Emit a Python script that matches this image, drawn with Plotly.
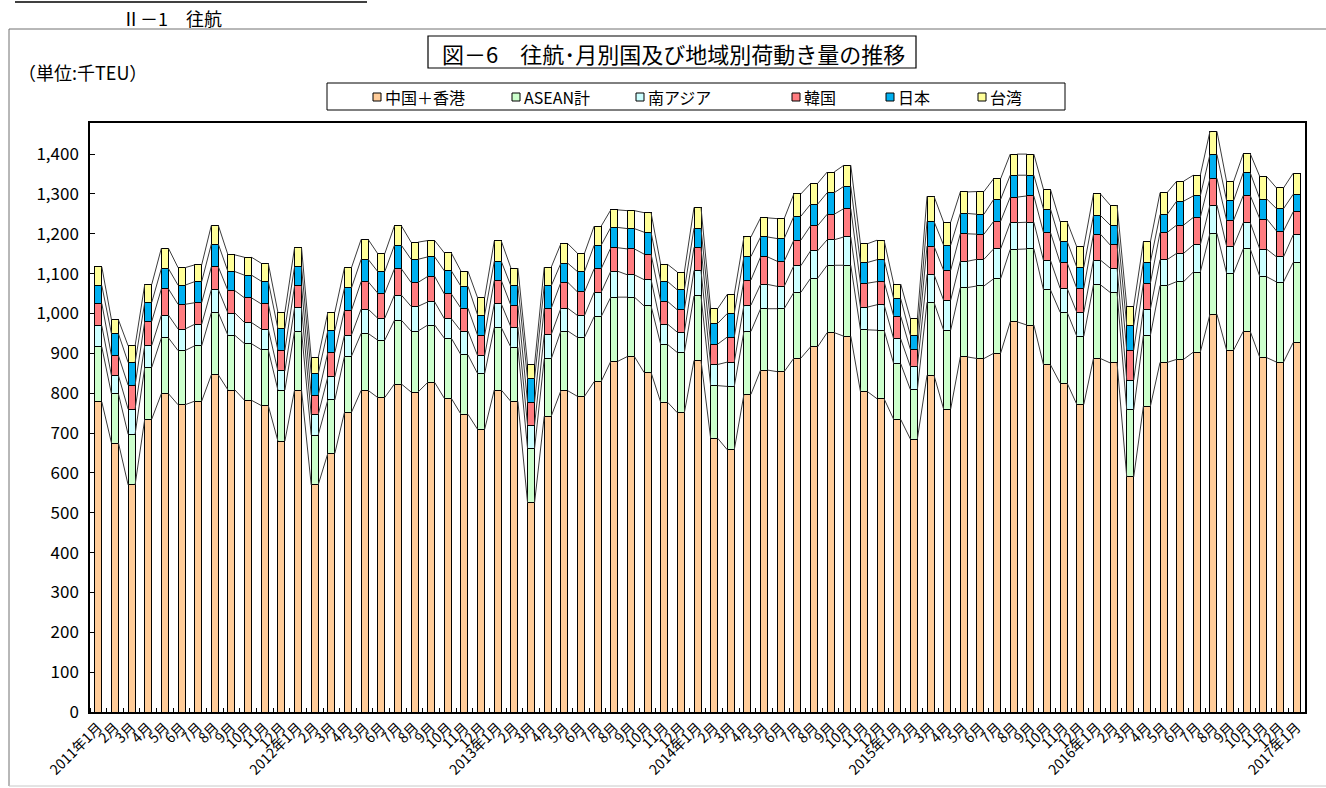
import plotly.graph_objects as go

# ---------------- data (千TEU) ----------------
months = []
for yr in range(2011, 2018):
    for m in range(1, 13):
        if len(months) < 73:
            months.append(f"{yr}年{m}月" if m == 1 else f"{m}月")

china = [778, 675, 570, 735, 799, 771, 780, 846, 808, 782, 769, 680,
         808, 570, 649, 752, 807, 789, 823, 803, 827, 787, 747, 709,
         808, 779, 525, 742, 806, 792, 829, 880, 892, 852, 777, 751,
         882, 687, 658, 797, 858, 854, 888, 916, 952, 943, 804, 786,
         734, 685, 845, 760, 891, 887, 900, 979, 971, 871, 825, 772,
         887, 876, 590, 767, 877, 885, 903, 998, 908, 955, 889, 878,
         927]
asean = [138, 123, 127, 130, 140, 136, 139, 156, 137, 142, 140, 128,
         148, 125, 134, 141, 143, 144, 160, 153, 144, 151, 149, 140,
         157, 136, 136, 144, 150, 148, 163, 161, 149, 167, 145, 151,
         162, 132, 159, 158, 154, 158, 165, 172, 169, 178, 155, 172,
         140, 124, 183, 198, 174, 182, 187, 182, 191, 188, 178, 171,
         185, 177, 168, 178, 193, 195, 201, 203, 193, 207, 203, 201,
         201]
south_asia = [53, 46, 63, 55, 57, 54, 54, 58, 56, 53, 52, 48,
              58, 51, 58, 53, 61, 55, 63, 62, 58, 49, 60, 45,
              59, 51, 59, 61, 57, 55, 61, 65, 56, 66, 51, 51,
              64, 53, 61, 66, 61, 56, 67, 69, 64, 71, 57, 64,
              62, 58, 70, 75, 66, 67, 75, 67, 67, 74, 60, 60,
              62, 61, 75, 66, 65, 71, 68, 71, 68, 66, 69, 63,
              69]
korea = [56, 50, 60, 60, 66, 62, 54, 57, 56, 62, 63, 52,
         55, 49, 61, 62, 69, 63, 66, 60, 64, 62, 57, 51,
         59, 54, 57, 66, 65, 59, 59, 59, 65, 64, 57, 56,
         58, 51, 63, 63, 69, 63, 64, 63, 64, 71, 60, 58,
         57, 43, 71, 75, 69, 63, 69, 64, 66, 70, 64, 60,
         65, 58, 75, 65, 68, 71, 69, 67, 65, 68, 76, 65,
         58]
japan = [45, 55, 57, 48, 51, 48, 53, 57, 48, 57, 57, 54,
         48, 54, 55, 56, 56, 54, 59, 58, 49, 58, 55, 51,
         48, 49, 59, 56, 48, 51, 59, 51, 51, 55, 50, 50,
         48, 52, 59, 59, 50, 57, 60, 54, 54, 56, 52, 55,
         44, 35, 62, 63, 51, 50, 55, 55, 52, 59, 54, 53,
         47, 50, 62, 53, 45, 60, 54, 60, 49, 57, 50, 56,
         44]
taiwan = [47, 35, 42, 45, 51, 44, 42, 47, 42, 45, 45, 41,
          48, 40, 46, 51, 50, 45, 49, 43, 41, 45, 38, 43,
          51, 45, 36, 47, 49, 46, 48, 44, 45, 49, 43, 45,
          52, 37, 48, 49, 48, 50, 56, 52, 52, 53, 47, 49,
          37, 42, 63, 58, 54, 57, 52, 53, 53, 49, 49, 51,
          54, 50, 48, 51, 55, 50, 52, 58, 48, 48, 56, 52,
          53]

series_names = ["中国＋香港", "ASEAN計", "南アジア", "韓国", "日本", "台湾"]
series_values = [china, asean, south_asia, korea, japan, taiwan]
series_colors = ["#FFCC99", "#CCFFCC", "#CCFFFF", "#FF7C80", "#00B0F0", "#FFFF99"]
y_ticks = list(range(0, 1401, 100))

# ---------------- layout helpers ----------------
W, H = 1326, 788
PL, PR, PT, PB = 90, 1305, 123, 712
FONT = "Noto Sans CJK JP"


def px(x):
    return (x - PL) / (PR - PL)


def py(y):
    return (PB - y) / (PB - PT)


n = len(months)
xs = list(range(n))
bw = 0.42

fig = go.Figure()
for name, vals, col in zip(series_names, series_values, series_colors):
    fig.add_bar(x=xs, y=vals, name=name, width=bw,
                marker=dict(color=col, line=dict(color="#000000", width=1)),
                showlegend=False)

# Excel-style series lines joining the stack levels
cum = [0] * n
for vals in series_values:
    cum = [c + v for c, v in zip(cum, vals)]
    lx, ly = [], []
    for i in range(n - 1):
        lx += [i + bw / 2, i + 1 - bw / 2, None]
        ly += [cum[i], cum[i + 1], None]
    fig.add_scatter(x=lx, y=ly, mode="lines", line=dict(color="#3c3c3c", width=1),
                    showlegend=False, hoverinfo="skip")

shapes = []
annotations = []

# outer frame
shapes.append(dict(type="line", xref="paper", yref="paper", x0=px(9), x1=px(1330), y0=py(29), y1=py(29),
                   line=dict(color="#707070", width=1)))
shapes.append(dict(type="line", xref="paper", yref="paper", x0=px(9), x1=px(9), y0=py(29), y1=py(786),
                   line=dict(color="#707070", width=1)))
shapes.append(dict(type="line", xref="paper", yref="paper", x0=px(9), x1=px(1330), y0=py(786), y1=py(786),
                   line=dict(color="#c8c8c8", width=1)))
# cut-off underline at very top
shapes.append(dict(type="line", xref="paper", yref="paper", x0=px(15), x1=px(367), y0=py(2), y1=py(2),
                   line=dict(color="#000000", width=1.5)))

# title box
shapes.append(dict(type="rect", xref="paper", yref="paper", x0=px(428), x1=px(916), y0=py(36), y1=py(68),
                   line=dict(color="#000000", width=1.2), fillcolor="white"))
annotations.append(dict(xref="paper", yref="paper", x=px(673), y=py(53), showarrow=False,
                        text="図－6　往航･月別国及び地域別荷動き量の推移",
                        font=dict(family=FONT, size=22, color="#000"), xanchor="center", yanchor="middle"))

annotations.append(dict(xref="paper", yref="paper", x=px(120), y=py(18), showarrow=False,
                        text="Ⅱ－1　往航", font=dict(family=FONT, size=18, color="#000"),
                        xanchor="left", yanchor="middle"))
annotations.append(dict(xref="paper", yref="paper", x=px(16), y=py(72), showarrow=False,
                        text="（単位:千TEU）", font=dict(family=FONT, size=18, color="#000"),
                        xanchor="left", yanchor="middle"))

# legend box
shapes.append(dict(type="rect", xref="paper", yref="paper", x0=px(327), x1=px(1065), y0=py(83), y1=py(110),
                   line=dict(color="#000000", width=1), fillcolor="white"))
legend_x = [373, 512, 636, 792, 886, 978]
for lxp, name, col in zip(legend_x, series_names, series_colors):
    shapes.append(dict(type="rect", xref="paper", yref="paper", x0=px(lxp), x1=px(lxp + 8),
                       y0=py(93), y1=py(101), line=dict(color="#000", width=1), fillcolor=col))
    annotations.append(dict(xref="paper", yref="paper", x=px(lxp + 10), y=py(97), showarrow=False,
                            text=name, font=dict(family=FONT, size=16, color="#000"),
                            xanchor="left", yanchor="middle"))

fig.update_layout(
    width=W, height=H,
    margin=dict(l=PL, r=W - PR, t=PT, b=H - PB, autoexpand=False),
    barmode="stack",
    paper_bgcolor="white", plot_bgcolor="white",
    font=dict(family=FONT, color="#000"),
    shapes=shapes, annotations=annotations,
    showlegend=False,
)
fig.update_xaxes(
    range=[-0.5, n - 0.5], tickmode="array", tickvals=xs, ticktext=months,
    tickangle=-45, ticks="", tickfont=dict(family=FONT, size=14, color="#000"),
    showline=True, linecolor="#000", linewidth=1.5, mirror=True,
    showgrid=False, zeroline=False, automargin=False,
    minor=dict(tickmode="linear", tick0=-0.5, dtick=1, ticks="inside", ticklen=4,
               tickcolor="#000", showgrid=False),
)
fig.update_yaxes(
    range=[0, 1478], tickmode="array", tickvals=y_ticks, tickformat=",",
    ticks="inside", ticklen=5, tickcolor="#000",
    tickfont=dict(family=FONT, size=17, color="#000"), ticklabelstandoff=6,
    showline=True, linecolor="#000", linewidth=1.5, mirror=True,
    showgrid=False, zeroline=False, automargin=False,
)

fig.write_html("out.html", config={"displayModeBar": False},
               post_script="document.body.style.margin='0px';")
